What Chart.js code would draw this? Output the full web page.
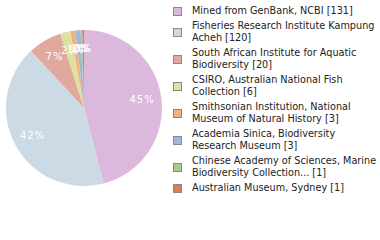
<!DOCTYPE html>
<html>
<head>
<meta charset="utf-8">
<script src="https://cdn.jsdelivr.net/npm/chart.js@4"></script>
<style>
    body { margin: 0; background: #fff; width: 380px; height: 240px; overflow: hidden; position: relative; }
    #wrap { position: absolute; left: 0; top: 0; width: 168px; height: 240px; }
    #legend { position: absolute; left: 173px; top: 5px; width: 207px; font-family: "DejaVu Sans", sans-serif; font-size: 9.7px; line-height: 12px; color: #222; }
    .item { display: flex; align-items: center; margin-bottom: 3px; }
    .box { width: 7px; height: 7px; border: 1px solid #888; margin-right: 10px; flex: none; }
</style>
</head>
<body>
<div id="wrap"><canvas id="pie"></canvas></div>
<div id="legend"></div>
<script>
const labels = [
    "Mined from GenBank, NCBI [131]",
    "Fisheries Research Institute Kampung Acheh [120]",
    "South African Institute for Aquatic Biodiversity [20]",
    "CSIRO, Australian National Fish Collection [6]",
    "Smithsonian Institution, National Museum of Natural History [3]",
    "Academia Sinica, Biodiversity Research Museum [3]",
    "Chinese Academy of Sciences, Marine Biodiversity Collection... [1]",
    "Australian Museum, Sydney [1]"
];
const counts = [131, 120, 20, 6, 3, 3, 1, 1];
const colors = ["#dcb9dc", "#ccdae6", "#dfa99e", "#dde2a0", "#f0b27e", "#9ab9de", "#a8cc88", "#e07b60"];

const total = counts.reduce((a, b) => a + b, 0);

// legend built as html so the long names can wrap
const legend = document.querySelector("#legend");
labels.forEach((text, i) => {
    const item = document.createElement("div");
    item.className = "item";
    const box = document.createElement("span");
    box.className = "box";
    box.style.background = colors[i];
    const span = document.createElement("span");
    span.textContent = text;
    item.appendChild(box);
    item.appendChild(span);
    legend.appendChild(item);
});

const percentLabels = {
    id: "percentLabels",
    afterDatasetsDraw(chart) {
        const {ctx} = chart;
        const meta = chart.getDatasetMeta(0);
        ctx.save();
        ctx.fillStyle = "#fff";
        ctx.font = "10px 'DejaVu Sans'";
        ctx.letterSpacing = "1px";
        ctx.textAlign = "center";
        ctx.textBaseline = "middle";
        meta.data.forEach((arc, i) => {
            const {x, y, startAngle, endAngle, outerRadius} = arc.getProps(["x", "y", "startAngle", "endAngle", "outerRadius"], true);
            const mid = (startAngle + endAngle) / 2;
            const r = outerRadius * 0.75;
            const pct = Math.floor(counts[i] / total * 100);
            ctx.fillText(pct + "%", x + Math.cos(mid) * r, y + Math.sin(mid) * r);
        });
        ctx.restore();
    }
};

new Chart(document.querySelector("#pie"), {
    type: "pie",
    data: {
        labels: labels,
        datasets: [{
            data: counts,
            backgroundColor: colors,
            borderWidth: 0
        }]
    },
    options: {
        responsive: true,
        maintainAspectRatio: false,
        animation: false,
        layout: { padding: { top: 6, bottom: 30, left: 6, right: 6 } },
        plugins: {
            legend: { display: false },
            tooltip: { enabled: false }
        }
    },
    plugins: [percentLabels]
});
</script>
</body>
</html>
